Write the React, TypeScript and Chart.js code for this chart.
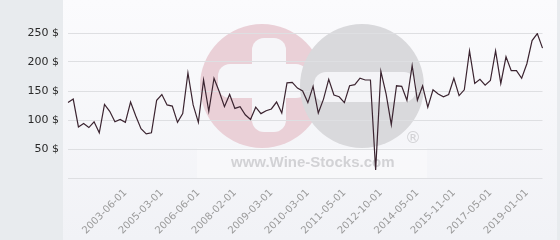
import React, { useEffect, useRef } from "react";
import { Chart, registerables } from "chart.js";

Chart.register(...registerables);

const dates: string[] = [
  "2001-08-01", "2001-10-01", "2001-12-01", "2002-01-01", "2002-03-01", "2002-05-01",
  "2002-07-01", "2002-09-01", "2002-11-01", "2003-01-01", "2003-03-01", "2003-06-01",
  "2003-09-01", "2003-12-01", "2004-03-01", "2004-06-01", "2004-09-01", "2004-12-01",
  "2005-03-01", "2005-05-01", "2005-07-01", "2005-09-01", "2005-11-01", "2006-01-01",
  "2006-03-01", "2006-06-01", "2006-09-01", "2006-12-01", "2007-03-01", "2007-05-01",
  "2007-08-01", "2007-11-01", "2008-02-01", "2008-04-01", "2008-06-01", "2008-08-01",
  "2008-10-01", "2008-11-01", "2009-01-01", "2009-03-01", "2009-05-01", "2009-07-01",
  "2009-08-01", "2009-10-01", "2009-11-01", "2010-01-01", "2010-03-01", "2010-05-01",
  "2010-07-01", "2010-09-01", "2010-11-01", "2011-01-01", "2011-03-01", "2011-05-01",
  "2011-07-01", "2011-10-01", "2011-12-01", "2012-02-01", "2012-05-01", "2012-07-01",
  "2012-10-01", "2013-01-01", "2013-04-01", "2013-06-01", "2013-09-01", "2013-12-01",
  "2014-02-01", "2014-05-01", "2014-08-01", "2014-10-01", "2015-01-01", "2015-03-01",
  "2015-06-01", "2015-08-01", "2015-11-01", "2016-02-01", "2016-04-01", "2016-07-01",
  "2016-09-01", "2016-12-01", "2017-02-01", "2017-05-01", "2017-08-01", "2017-11-01",
  "2018-02-01", "2018-05-01", "2018-07-01", "2018-10-01", "2019-01-01", "2019-04-01",
  "2019-07-01", "2019-10-01",
];

const prices: number[] = [
  130, 136, 88, 94, 87, 97, 78, 127, 115, 97, 101, 96,
  131, 107, 85, 76, 78, 134, 144, 126, 124, 96, 111, 181,
  126, 96, 169, 115, 172, 149, 123, 144, 120, 123, 109, 101,
  122, 111, 116, 119, 131, 112, 164, 165, 155, 150, 130, 158,
  112, 136, 170, 143, 140, 130, 159, 161, 172, 169, 169, 14,
  184, 145, 92, 159, 158, 134, 194, 134, 159, 122, 152, 145,
  140, 144, 172, 142, 152, 219, 163, 170, 160, 168, 219, 163,
  209, 185, 185, 172, 197, 237, 249, 224,
];

const labelStart = 11;
const labelStep = 7;
const yTicks: number[] = [0, 50, 100, 150, 200, 250];

const backgroundPlugin = {
  id: "bgWatermark",
  beforeDraw(chart: any) {
    const ctx = chart.ctx as CanvasRenderingContext2D;
    const w = chart.width;
    const h = chart.height;
    ctx.save();
    ctx.fillStyle = "#e8ebee";
    ctx.fillRect(0, 0, w, h);
    const g = ctx.createLinearGradient(0, 0, 0, h);
    g.addColorStop(0, "#fbfbfd");
    g.addColorStop(1, "#f1f2f6");
    ctx.fillStyle = g;
    ctx.fillRect(63, 0, 494, h);

    // watermark
    ctx.fillStyle = "rgba(255,255,255,0.35)";
    ctx.fillRect(197, 148, 230, 30);

    ctx.fillStyle = "#ead0d7";
    ctx.beginPath();
    ctx.arc(262, 86, 62, 0, Math.PI * 2);
    ctx.fill();

    ctx.fillStyle = "#f6f6f9";
    const rr = (x: number, y: number, ww: number, hh: number, r: number) => {
      ctx.beginPath();
      ctx.moveTo(x + r, y);
      ctx.lineTo(x + ww - r, y);
      ctx.arcTo(x + ww, y, x + ww, y + r, r);
      ctx.lineTo(x + ww, y + hh - r);
      ctx.arcTo(x + ww, y + hh, x + ww - r, y + hh, r);
      ctx.lineTo(x + r, y + hh);
      ctx.arcTo(x, y + hh, x, y + hh - r, r);
      ctx.lineTo(x, y + r);
      ctx.arcTo(x, y, x + r, y, r);
      ctx.closePath();
      ctx.fill();
    };
    rr(252, 38, 34, 94, 12);
    rr(218, 64, 90, 34, 12);

    ctx.fillStyle = "#d9d9dc";
    ctx.beginPath();
    ctx.arc(362, 86, 62, 0, Math.PI * 2);
    ctx.fill();
    ctx.fillStyle = "#f4f4f7";
    rr(314, 72, 102, 30, 12);

    ctx.fillStyle = "#d2d2d5";
    ctx.font = "bold 15px 'Liberation Sans', Arial, sans-serif";
    ctx.textAlign = "left";
    ctx.textBaseline = "alphabetic";
    ctx.fillText("www.Wine-Stocks.com", 231, 167);
    ctx.font = "16px 'DejaVu Sans', sans-serif";
    ctx.textAlign = "center";
    ctx.textBaseline = "middle";
    ctx.fillText("®", 413, 139);

    ctx.restore();
  },
};

export default function App() {
  const ref = useRef<HTMLCanvasElement | null>(null);

  useEffect(() => {
    if (!ref.current) return;
    const chart = new Chart(ref.current, {
      type: "line",
      data: {
        labels: dates,
        datasets: [
          {
            data: prices,
            borderColor: "#3b2430",
            borderWidth: 1.2,
            pointRadius: 0,
            tension: 0,
            fill: false,
          },
        ],
      },
      options: {
        animation: false,
        responsive: false,
        maintainAspectRatio: false,
        layout: { padding: { top: 33, right: 6, left: 0, bottom: 0 } },
        plugins: { legend: { display: false }, tooltip: { enabled: false } },
        scales: {
          x: {
            offset: false,
            grid: { display: false, drawTicks: false },
            border: { display: false },
            afterFit: (s: any) => {
              s.height = 62;
            },
            ticks: {
              autoSkip: false,
              maxRotation: 45,
              minRotation: 45,
              padding: 9,
              color: "#9a9a9a",
              font: { family: "'DejaVu Sans', sans-serif", size: 10 },
              callback: (_v: any, i: number) =>
                i >= labelStart && (i - labelStart) % labelStep === 0 ? dates[i] : "",
            },
          },
          y: {
            min: 0,
            max: 250,
            afterFit: (s: any) => {
              s.width = 68;
            },
            afterBuildTicks: (s: any) => {
              s.ticks = yTicks.map((v) => ({ value: v }));
            },
            grid: { color: "#dedfe2", lineWidth: 1, drawTicks: false },
            border: { display: false },
            ticks: {
              padding: 9,
              color: "#2a2a2a",
              font: { family: "'DejaVu Sans', sans-serif", size: 11 },
              callback: (v: any) => (v === 0 ? "" : v + " $"),
            },
          },
        },
      },
      plugins: [backgroundPlugin],
    });
    return () => chart.destroy();
  }, []);

  return (
    <div style={{ position: "fixed", left: 0, top: 0, width: 560, height: 240 }}>
      <canvas ref={ref} width={560} height={240} style={{ display: "block" }} />
    </div>
  );
}
